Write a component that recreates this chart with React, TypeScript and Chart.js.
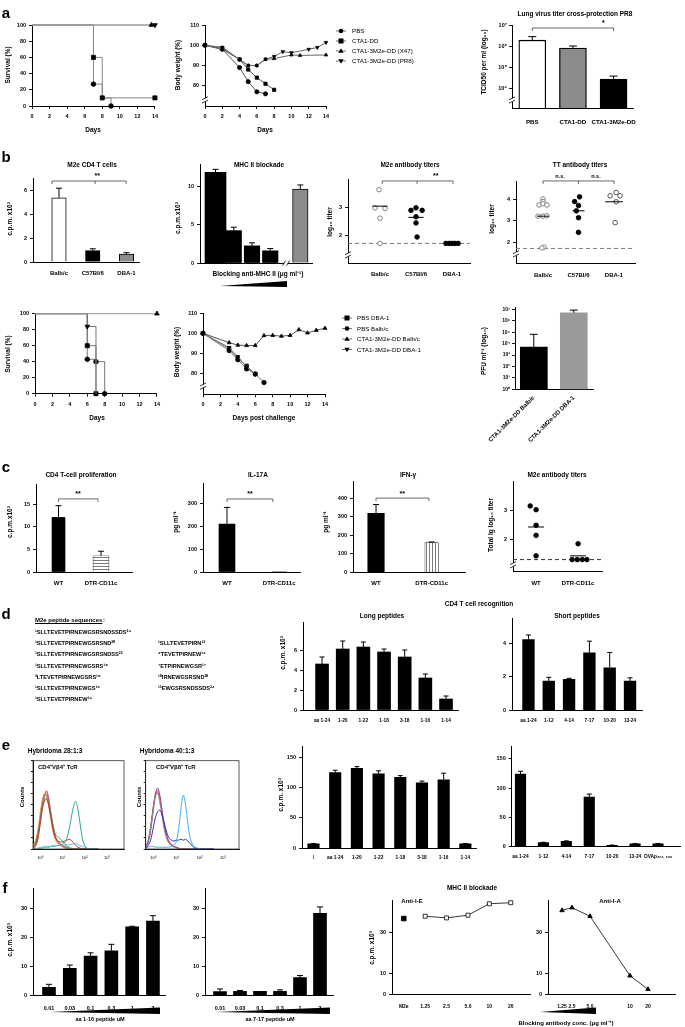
import React, { useEffect, useRef } from 'react';
import { Chart, registerables } from 'chart.js';

Chart.register(...registerables);

const FONT = "'Liberation Sans', Arial, sans-serif";

// ================= DATA =================
const dayTicks = [0, 2, 4, 6, 8, 10, 12, 14];
const survTicks = [0, 20, 40, 60, 80, 100];
const bwTicks = [80, 90, 100, 110];

// a – survival
const survA_PBS_days = [0, 7, 8, 9];
const survA_PBS = [100, 27, 10, 0];
const survA_CTA1DD_days = [0, 7, 8, 14];
const survA_CTA1DD = [100, 60, 10, 10];
const survA_X47_days = [0, 13.6];
const survA_X47 = [100, 100];
const survA_PR8_days = [0, 14];
const survA_PR8 = [100, 100];

// a – body weight
const bwA_PBS_days = [0, 2, 4, 5, 6, 7];
const bwA_PBS = [100, 98, 89, 82, 77, 76];
const bwA_CTA1DD_days = [0, 2, 4, 5, 6, 7, 8];
const bwA_CTA1DD = [100, 98.5, 93, 88, 84, 81, 78];
const bwA_X47_days = [0, 2, 4, 5, 6, 7, 8, 10, 11, 14];
const bwA_X47 = [100, 98, 93, 90, 90, 93, 93.4, 95.2, 95, 95.2];
const bwA_PR8_days = [0, 2, 4, 5, 6, 7, 8, 9, 10, 12, 13, 14];
const bwA_PR8 = [100, 99, 93, 90, 90, 93.2, 94.4, 96.8, 96.3, 98, 98.9, 101.4];
const legendA = ['PBS', 'CTA1-DD', 'CTA1-3M2e-DD (X47)', 'CTA1-3M2e-DD (PR8)'];

// a – lung virus titer
const lungGroups = ['PBS', 'CTA1-DD', 'CTA1-3M2e-DD'];
const lungTiter = [1.9e6, 8.0e5, 2.7e4];
const lungTiterErr = [2.8e6, 1.0e6, 3.7e4];
const lungTicks = [1e4, 1e5, 1e6, 1e7];

// b – M2e CD4 T cells / MHC II blockade
const strains = ['Balb/c', 'C57Bl/6', 'DBA-1'];
const m2eCd4 = [5.35, 0.95, 0.65];
const m2eCd4Err = [6.15, 1.1, 0.78];
const mhcBlockFirst = [11.9];
const mhcBlockFirstErr = [12.3];
const mhcBlock = [4.25, 2.25, 1.6];
const mhcBlockErr = [4.7, 2.65, 1.9];
const mhcNoBlock = [9.7];
const mhcNoBlockErr = [10.25];

// b – M2e antibody titers (log10)
const m2eTiterBalb = [3.62, 2.97, 2.95, 2.6, 1.7];
const m2eTiterBalbJit = [-0.03, -0.14, 0.14, 0, 0];
const m2eTiterC57 = [2.88, 2.97, 2.88, 2.65, 2.43, 1.93];
const m2eTiterC57Jit = [-0.14, 0, 0.17, 0, 0, 0.03];
const m2eTiterDBA = [1.7, 1.7, 1.7, 1.7, 1.7];
const m2eTiterDBAJit = [-0.17, -0.08, 0, 0.08, 0.17];
const m2eTiterMed = [3.03, 2.63, 1.7];

// b – TT antibody titers (log10)
const ttBalb = [4.0, 3.88, 3.72, 3.78, 3.72, 3.2, 3.2, 3.22, 1.76, 1.72];
const ttBalbJit = [0, 0, -0.11, 0, 0.11, -0.14, 0, 0.11, 0.03, -0.03];
const ttC57 = [4.1, 3.88, 3.7, 3.45, 3.13, 2.45];
const ttC57Jit = [0.03, -0.11, 0, -0.06, 0, 0];
const ttDBA = [4.3, 4.15, 4.15, 3.87, 2.9];
const ttDBAJit = [0.06, -0.11, 0.17, 0.06, 0.03];
const ttMed = [3.2, 3.45, 3.87];

// b – survival / body weight after challenge
const survB_PBSDBA_days = [0, 6, 7];
const survB_PBSDBA = [100, 60, 0];
const survB_PBSBalb_days = [0, 6, 7, 8];
const survB_PBSBalb = [100, 43, 40, 0];
const survB_CTABalb_days = [0, 14];
const survB_CTABalb = [100, 100];
const survB_CTADBA_days = [0, 6, 7];
const survB_CTADBA = [100, 84, 0];

const bwB_PBSDBA_days = [0, 3, 4, 5, 6];
const bwB_PBSDBA = [100, 92.5, 87.5, 84, 80];
const bwB_PBSBalb_days = [0, 3, 4, 5, 6, 7];
const bwB_PBSBalb = [100, 91.5, 87, 82.5, 80, 75.8];
const bwB_CTABalb_days = [0, 3, 4, 5, 6, 7, 8, 9, 10, 11, 12, 13, 14];
const bwB_CTABalb = [100, 95.4, 94.2, 94, 94, 98.9, 99, 98.6, 99, 101.8, 100.2, 101.5, 102.5];
const bwB_CTADBA_days = [0, 3, 4, 5, 6];
const bwB_CTADBA = [100, 93, 88.5, 83.5, 79.8];
const legendB = ['PBS DBA-1', 'PBS Balb/c', 'CTA1-3M2e-DD Balb/c', 'CTA1-3M2e-DD DBA-1'];

// b – PFU
const pfuGroups = ['CTA1-3M2e-DD Balb/c', 'CTA1-3M2e-DD DBA-1'];
const pfu = [5000, 5.0e6];
const pfuErr = [6.5e4, 8.5e6];
const pfuTicks = [1, 10, 100, 1e3, 1e4, 1e5, 1e6, 1e7];

// c
const cGroups = ['WT', 'DTR-CD11c'];
const cd4Prolif = [12.1, 3.6];
const cd4ProlifErr = [14.7, 4.6];
const il17a = [210, 3];
const il17aErr = [283, 3];
const ifng = [318, 160];
const ifngErr = [366, 163];
const cTiterWT = [3.16, 3.03, 2.49, 2.14, 1.43];
const cTiterWTJit = [-0.14, 0, 0, 0, 0];
const cTiterDTR = [1.85, 1.3, 1.3, 1.3, 1.3];
const cTiterDTRJit = [0, -0.14, -0.02, 0.1, 0.21];
const cTiterMed = [2.43, 1.43];

// d
const seqLong = [
  '¹SLLTEVETPIRNEWGSRSNDSSDS²⁴',
  '¹SLLTEVETPIRNEWGSRSND²⁰',
  '¹SLLTEVETPIRNEWGSRSNDSS²²',
  '¹SLLTEVETPIRNEWGSRS¹⁸',
  '³LTEVETPIRNEWGSRS¹⁸',
  '¹SLLTEVETPIRNEWGS¹⁶',
  '¹SLLTEVETPIRNEW¹⁴',
];
const seqShort = [
  '¹SLLTEVETPIRN¹²',
  '⁴TEVETPIRNEW¹⁴',
  '⁷ETPIRNEWGSR¹⁷',
  '¹⁰IRNEWGSRSND²⁰',
  '¹³EWGSRSNDSSDS²⁴',
];
const longPeptides = ['aa 1-24', '1-20', '1-22', '1-18', '3-18', '1-16', '1-14'];
const longVals = [4.6, 6.1, 6.3, 5.8, 5.3, 3.2, 1.1];
const longErr = [5.3, 6.9, 6.8, 6.1, 6.0, 3.6, 1.4];
const shortPeptides = ['aa 1-24', '1-12', '4-14', '7-17', '10-20', '13-24'];
const shortVals = [4.23, 1.74, 1.84, 3.43, 2.53, 1.74];
const shortErr = [4.5, 1.96, 1.9, 4.13, 3.45, 1.93];

// e – flow histograms (x = log10 fluorescence)
const flowX = [-0.3, -0.2, -0.1, 0, 0.1, 0.2, 0.3, 0.4, 0.5, 0.6, 0.7, 0.8, 0.9, 1.0, 1.1, 1.2, 1.3, 1.4, 1.5, 1.6, 1.7, 1.8, 1.9, 2.0, 2.1, 2.2, 2.3, 2.4, 2.5, 2.6];
const flow1Orange = [3, 8, 18, 35, 52, 63, 65, 55, 38, 22, 12, 8, 5, 3, 2, 1, 0, 0, 0, 0, 0, 0, 0, 0, 0, 0, 0, 0, 0, 0];
const flow1Brown = [2, 6, 15, 32, 50, 60, 62, 52, 36, 22, 13, 8, 5, 4, 3, 2, 1, 0, 0, 0, 0, 0, 0, 0, 0, 0, 0, 0, 0, 0];
const flow1Olive = [4, 10, 20, 38, 55, 62, 60, 48, 32, 18, 10, 6, 4, 2, 1, 0, 0, 0, 0, 0, 0, 0, 0, 0, 0, 0, 0, 0, 0, 0];
const flow1Magenta = [2, 5, 14, 30, 48, 58, 66, 56, 40, 25, 14, 9, 6, 4, 2, 1, 0, 0, 0, 0, 0, 0, 0, 0, 0, 0, 0, 0, 0, 0];
const flow1Green = [1, 4, 12, 28, 45, 55, 58, 50, 38, 25, 16, 14, 12, 9, 6, 4, 2, 1, 0, 0, 0, 0, 0, 0, 0, 0, 0, 0, 0, 0];
const flow1Red = [1, 3, 10, 26, 44, 54, 56, 48, 34, 20, 12, 9, 8, 8, 9, 10, 11, 10, 7, 4, 2, 1, 0, 0, 0, 0, 0, 0, 0, 0];
const flow1Teal = [0, 0, 0, 1, 1, 2, 2, 2, 3, 3, 3, 4, 4, 5, 7, 12, 22, 35, 48, 54, 45, 28, 12, 4, 1, 0, 0, 0, 0, 0];
const flow1Blue = [0, 1, 1, 2, 2, 3, 3, 3, 3, 4, 4, 4, 4, 4, 4, 4, 5, 5, 6, 6, 5, 4, 3, 2, 1, 0, 0, 0, 0, 0];
const flow2Purple = [3, 10, 25, 45, 62, 69, 60, 42, 25, 14, 8, 5, 3, 2, 1, 0, 0, 0, 0, 0, 0, 0, 0, 0, 0, 0, 0, 0, 0, 0];
const flow2Red = [2, 8, 22, 42, 60, 66, 58, 40, 24, 13, 8, 5, 3, 2, 1, 0, 0, 0, 0, 0, 0, 0, 0, 0, 0, 0, 0, 0, 0, 0];
const flow2Pink = [2, 7, 20, 40, 58, 64, 55, 38, 22, 12, 7, 4, 3, 2, 1, 0, 0, 0, 0, 0, 0, 0, 0, 0, 0, 0, 0, 0, 0, 0];
const flow2Gray = [3, 9, 24, 44, 60, 63, 52, 36, 20, 11, 6, 4, 2, 1, 0, 0, 0, 0, 0, 0, 0, 0, 0, 0, 0, 0, 0, 0, 0, 0];
const flow2Navy = [1, 4, 10, 22, 35, 42, 44, 38, 28, 18, 12, 10, 9, 10, 10, 11, 10, 11, 9, 6, 3, 1, 0, 0, 0, 0, 0, 0, 0, 0];
const flow2Sky = [1, 2, 3, 3, 2, 2, 2, 2, 2, 2, 2, 3, 4, 8, 22, 45, 61, 50, 28, 12, 5, 2, 1, 0, 0, 0, 0, 0, 0, 0];

// e – hybridoma bars
const eLongLabels = ['/', 'aa 1-24', '1-20', '1-22', '1-18', '3-18', '1-16', '1-14'];
const eLongVals = [7, 125, 132, 123, 117, 108, 113, 7];
const eLongErr = [7.5, 129, 135, 128, 120, 111, 124, 7.5];
const eShortLabels = ['aa 1-24', '1-12', '4-14', '7-17', '10-20', '13-24', 'OVAp₃₂₃₋₃₃₉'];
const eShortVals = [124, 7, 9, 85, 2.5, 5, 5];
const eShortErr = [129, 7.5, 10, 90, 2.8, 5.5, 5.5];

// f
const doseLabels = ['0.01', '0.03', '0.1', '0.3', '1', '3'];
const f116 = [2.9, 9.4, 13.6, 15.4, 23.6, 25.6];
const f116Err = [3.9, 10.5, 14.7, 17.6, 23.8, 27.4];
const f717 = [1.4, 1.5, 1.5, 1.5, 6.2, 28.2];
const f717Err = [2.3, 1.8, 1.5, 2.0, 6.9, 30.4];
const ieLabels = ['M2e', '1.25', '2.5', '5.0', '10', '20'];
const ieM2e = [36.6];
const ieVals = [37.7, 36.9, 38.2, 43.7, 44.2];
const iaLabels = ['1.25', '2.5', '5.0', '10', '20'];
const iaSlots = [1.4, 2.4, 4.2, 8.2, 10];
const iaVals = [40.5, 41.8, 37.7, 9.1, 2.6];

// ================= HELPERS =================
const SUP: any = { '0': '⁰', '1': '¹', '2': '²', '3': '³', '4': '⁴', '5': '⁵', '6': '⁶', '7': '⁷', '8': '⁸', '9': '⁹', '-': '⁻' };
const sup = (s: string) => s.split('').map((c) => SUP[c] ?? c).join('');
const pow10Label = (v: number) => '10' + sup(String(Math.round(Math.log10(v))));

const errPlugin = {
  id: 'errbars',
  afterDatasetsDraw(chart: any) {
    const ctx = chart.ctx;
    chart.data.datasets.forEach((ds: any, di: number) => {
      if (!ds.errTop) return;
      const meta = chart.getDatasetMeta(di);
      const ys = chart.scales[meta.yAxisID];
      ctx.save();
      ctx.strokeStyle = '#000';
      ctx.lineWidth = 1;
      meta.data.forEach((el: any, i: number) => {
        const top = ds.errTop[i];
        const v = ds.data[i].y;
        if (top == null || top <= v) return;
        const y1 = ys.getPixelForValue(top);
        const cap = ds.errCap ?? 3;
        ctx.beginPath();
        ctx.moveTo(el.x, el.y);
        ctx.lineTo(el.x, y1);
        ctx.moveTo(el.x - cap, y1);
        ctx.lineTo(el.x + cap, y1);
        ctx.stroke();
      });
      ctx.restore();
    });
  },
};
Chart.register(errPlugin);

function annot(items: any[], frame?: boolean) {
  return {
    id: 'annot',
    beforeDatasetsDraw(chart: any) {
      const { ctx, chartArea: ca } = chart;
      const xs = chart.scales.x, ys = chart.scales.y;
      ctx.save();
      for (const it of items) {
        if (it.kind !== 'hline') continue;
        const y = ys.getPixelForValue(it.y);
        ctx.strokeStyle = it.color ?? '#666';
        ctx.lineWidth = 1;
        ctx.setLineDash(it.dash ?? [4, 3]);
        ctx.beginPath();
        ctx.moveTo(it.x1 != null ? xs.getPixelForValue(it.x1) : ca.left, y);
        ctx.lineTo(it.x2 != null ? xs.getPixelForValue(it.x2) : ca.right, y);
        ctx.stroke();
      }
      ctx.restore();
    },
    afterDatasetsDraw(chart: any) {
      const { ctx, chartArea: ca } = chart;
      const xs = chart.scales.x, ys = chart.scales.y;
      ctx.save();
      if (frame) {
        ctx.strokeStyle = '#333';
        ctx.lineWidth = 0.8;
        ctx.strokeRect(ca.left, ca.top, ca.right - ca.left, ca.bottom - ca.top);
      }
      for (const it of items) {
        ctx.setLineDash([]);
        if (it.kind === 'bracket') {
          const x1 = xs.getPixelForValue(it.x1), x2 = xs.getPixelForValue(it.x2), y = ys.getPixelForValue(it.y);
          const d = it.drop ?? 3;
          ctx.strokeStyle = '#444';
          ctx.lineWidth = 0.8;
          ctx.beginPath();
          ctx.moveTo(x1, y + d); ctx.lineTo(x1, y); ctx.lineTo(x2, y); ctx.lineTo(x2, y + d);
          (it.mids || []).forEach((m: number) => {
            const xm = xs.getPixelForValue(m);
            ctx.moveTo(xm, y); ctx.lineTo(xm, y + d);
          });
          ctx.stroke();
          (it.labels || []).forEach((l: any) => {
            ctx.fillStyle = '#000';
            ctx.font = `bold ${l.size ?? 7}px ${FONT}`;
            ctx.textAlign = 'center';
            ctx.textBaseline = 'bottom';
            ctx.fillText(l.text, xs.getPixelForValue(l.x), y - (l.gap ?? 1));
          });
        } else if (it.kind === 'seg') {
          const y = ys.getPixelForValue(it.y);
          ctx.strokeStyle = '#000';
          ctx.lineWidth = 1;
          ctx.beginPath();
          ctx.moveTo(xs.getPixelForValue(it.x - it.hw), y);
          ctx.lineTo(xs.getPixelForValue(it.x + it.hw), y);
          ctx.stroke();
        } else if (it.kind === 'ybreak') {
          const x = ca.left, y = ys.getPixelForValue(it.y);
          ctx.fillStyle = '#fff';
          ctx.fillRect(x - 1.5, y - 1.8, 3, 3.6);
          ctx.strokeStyle = '#000';
          ctx.lineWidth = 0.8;
          ctx.beginPath();
          ctx.moveTo(x - 3, y - 0.2); ctx.lineTo(x + 3, y - 3.2);
          ctx.moveTo(x - 3, y + 3.2); ctx.lineTo(x + 3, y + 0.2);
          ctx.stroke();
        } else if (it.kind === 'xbreak') {
          const x = xs.getPixelForValue(it.x), y = ca.bottom;
          ctx.fillStyle = '#fff';
          ctx.fillRect(x - 2, y - 1.5, 4, 3);
          ctx.strokeStyle = '#000';
          ctx.lineWidth = 0.8;
          ctx.beginPath();
          ctx.moveTo(x - 3.5, y + 2.5); ctx.lineTo(x - 0.5, y - 2.5);
          ctx.moveTo(x + 0.5, y + 2.5); ctx.lineTo(x + 3.5, y - 2.5);
          ctx.stroke();
        }
      }
      ctx.restore();
    },
  };
}

function axisOpts(o: any, afterFit: (s: any) => void) {
  return {
    type: o.type ?? 'linear',
    min: o.min,
    max: o.max,
    offset: false,
    grid: { display: o.marks !== false, offset: false, drawOnChartArea: false, drawTicks: true, tickLength: o.tl ?? 3, color: '#000', lineWidth: 0.9 },
    border: { display: o.border !== false, color: '#000', width: 1 },
    ticks: {
      display: o.labels !== false,
      autoSkip: false,
      maxRotation: o.rot ?? 0,
      minRotation: o.rot ?? 0,
      padding: o.pad ?? 2,
      color: '#000',
      font: { family: FONT, size: o.fs ?? 5.5, weight: o.weight ?? 'bold' },
      callback: o.names ? (_v: any, i: number) => o.names[i] : o.fmt ? (v: any) => o.fmt(v) : (v: any) => String(v),
    },
    afterBuildTicks: (s: any) => {
      if (o.at) s.ticks = o.at.map((v: number) => ({ value: v }));
    },
    afterFit,
  };
}

function build(spec: any) {
  const [cl, ct, cw, ch] = spec.box;
  const [pl, pt, pr, pb] = spec.plot;
  return {
    type: spec.type ?? 'bar',
    data: { datasets: spec.datasets() },
    options: {
      responsive: false,
      maintainAspectRatio: false,
      animation: false,
      events: [],
      layout: { padding: { left: 0, top: pt - ct, right: cl + cw - pr, bottom: 0 } },
      plugins: { legend: { display: false }, tooltip: { enabled: false }, title: { display: false } },
      scales: {
        x: axisOpts(spec.x, (s: any) => { s.height = ct + ch - pb; }),
        y: axisOpts(spec.y, (s: any) => { s.width = pl - cl; }),
      },
    },
    plugins: [annot(spec.annot ?? [], spec.frame)],
  };
}

function bars(vals: number[], errTop: number[] | null, o: any) {
  const pos = o.pos ?? vals.map((_v, i) => (o.start ?? 1) + i);
  return {
    type: 'bar',
    data: vals.map((v, i) => ({ x: pos[i], y: v })),
    backgroundColor: o.bg ?? '#000',
    borderColor: '#000',
    borderWidth: o.bw ?? 0,
    barThickness: o.w,
    grouped: false,
    errTop,
    errCap: o.cap ?? 3,
  };
}

function series(days: number[], vals: number[], o: any) {
  return {
    type: 'line',
    data: days.map((d, i) => ({ x: d, y: vals[i] })),
    borderColor: o.color ?? '#808080',
    borderWidth: o.lw ?? 1,
    stepped: o.stepped ?? false,
    pointStyle: o.shape ?? 'circle',
    pointRotation: o.rot ?? 0,
    pointRadius: o.radii ?? 2.2,
    pointBackgroundColor: o.fill ?? '#000',
    pointBorderColor: o.stroke ?? '#000',
    pointBorderWidth: 0.8,
    showLine: o.showLine ?? true,
    clip: false,
    tension: o.tension ?? 0,
    fill: false,
  };
}

function dots(vals: number[], jit: number[], cat: number, fill: string, stroke: string) {
  return {
    type: 'scatter',
    data: vals.map((v, i) => ({ x: cat + jit[i], y: v })),
    pointRadius: 2.3,
    pointBackgroundColor: fill,
    pointBorderColor: stroke,
    pointBorderWidth: 0.9,
    clip: false,
  };
}

function flowLine(vals: number[], color: string) {
  return {
    type: 'line',
    data: flowX.map((x, i) => ({ x, y: vals[i] })),
    borderColor: color,
    borderWidth: 0.9,
    pointRadius: 0,
    tension: 0.35,
    fill: false,
  };
}

function stripes(horizontal: boolean) {
  const c = document.createElement('canvas');
  c.width = 3;
  c.height = 3;
  const g = c.getContext('2d')!;
  g.fillStyle = '#fff';
  g.fillRect(0, 0, 3, 3);
  g.fillStyle = '#7a7a7a';
  if (horizontal) g.fillRect(0, 0, 3, 1);
  else g.fillRect(0, 0, 1, 3);
  return g.createPattern(c, 'repeat');
}

// ================= CHART SPECS =================
const specs: any[] = [
  // a – survival
  {
    box: [8, 15, 154, 112], plot: [32, 25, 155, 106], type: 'line',
    datasets: () => [
      series(survA_X47_days, survA_X47, { shape: 'triangle', stepped: true, radii: [0, 2.7], color: '#999' }),
      series(survA_PR8_days, survA_PR8, { shape: 'triangle', rot: 180, stepped: true, radii: [0, 2.7], color: '#999' }),
      series(survA_CTA1DD_days, survA_CTA1DD, { shape: 'rect', stepped: true, radii: [0, 2.9, 2.9, 2.9], color: '#888' }),
      series(survA_PBS_days, survA_PBS, { shape: 'circle', stepped: true, radii: [0, 2.3, 0, 2.3], color: '#888' }),
    ],
    x: { min: 0, max: 14, at: dayTicks, pad: 4 },
    y: { min: 0, max: 100, at: survTicks, pad: 3 },
  },
  // a – body weight
  {
    box: [178, 15, 158, 112], plot: [205, 25, 326, 106], type: 'line',
    datasets: () => [
      series(bwA_X47_days, bwA_X47, { shape: 'triangle', radii: 2, color: '#666' }),
      series(bwA_PR8_days, bwA_PR8, { shape: 'triangle', rot: 180, radii: 2, color: '#666' }),
      series(bwA_CTA1DD_days, bwA_CTA1DD, { shape: 'rect', radii: 2.3, color: '#555' }),
      series(bwA_PBS_days, bwA_PBS, { shape: 'circle', radii: 2.1, color: '#555' }),
    ],
    x: { min: 0, max: 14, at: dayTicks, pad: 4 },
    y: { min: 70, max: 110, at: bwTicks, pad: 3 },
    annot: [{ kind: 'ybreak', y: 73 }],
  },
  // a – lung virus titer
  {
    box: [462, 15, 183, 130], plot: [512, 25, 637, 108],
    datasets: () => [bars(lungTiter, lungTiterErr, { bg: ['#fff', '#8c8c8c', '#000'], bw: 1.3, w: 27, cap: 4 })],
    x: { min: 0.5, max: 3.5, at: [1, 2, 3], names: lungGroups, marks: false, fs: 6.2, pad: 8 },
    y: { type: 'logarithmic', min: 1122, max: 1e7, at: lungTicks, fmt: pow10Label, fs: 5.5 },
    annot: [
      { kind: 'ybreak', y: 2690 },
      { kind: 'bracket', x1: 1, x2: 3, y: 7.2e6, drop: 3, labels: [{ x: 2.75, text: '*', size: 8 }] },
    ],
  },
  // b – M2e CD4 T cells
  {
    box: [10, 168, 137, 112], plot: [33, 178, 139, 262],
    datasets: () => [bars(m2eCd4, m2eCd4Err, { bg: ['#fff', '#000', '#8c8c8c'], bw: 1, w: 14.5 })],
    x: { min: 0.23, max: 3.37, at: [1, 2, 3], names: strains, marks: false, fs: 6, pad: 5 },
    y: { min: 0, max: 7, at: [0, 2, 4, 6], pad: 3 },
    annot: [{ kind: 'bracket', x1: 0.79, x2: 2.99, y: 6.75, mids: [2.07], labels: [{ x: 2.13, text: '**', size: 7 }] }],
  },
  // b – MHC II blockade
  {
    box: [168, 155, 150, 122], plot: [200, 164, 312, 263],
    datasets: () => [
      bars(mhcBlockFirst, mhcBlockFirstErr, { w: 21, pos: [1] }),
      bars(mhcBlock, mhcBlockErr, { w: 15.5, start: 2 }),
      bars(mhcNoBlock, mhcNoBlockErr, { w: 15.5, pos: [5.65], bg: '#8c8c8c', bw: 1 }),
    ],
    x: { min: 0.15, max: 6.29, labels: false, marks: false },
    y: { min: 0, max: 13, at: [0, 5, 10], pad: 3 },
    annot: [{ kind: 'xbreak', x: 4.87 }],
  },
  // b – M2e antibody titers
  {
    box: [318, 168, 160, 112], plot: [348, 179, 470, 263], type: 'scatter',
    datasets: () => [
      dots(m2eTiterBalb, m2eTiterBalbJit, 1, '#fff', '#777'),
      dots(m2eTiterC57, m2eTiterC57Jit, 2, '#000', '#000'),
      dots(m2eTiterDBA, m2eTiterDBAJit, 3, '#000', '#000'),
    ],
    x: { min: 0.11, max: 3.5, at: [1, 2, 3], names: strains, marks: false, fs: 6, pad: 5 },
    y: { min: 1, max: 4, at: [2, 3], pad: 3 },
    annot: [
      { kind: 'hline', y: 1.7, color: '#777' },
      { kind: 'seg', x: 1, y: m2eTiterMed[0], hw: 0.21 },
      { kind: 'seg', x: 2, y: m2eTiterMed[1], hw: 0.21 },
      { kind: 'seg', x: 3, y: m2eTiterMed[2], hw: 0.21 },
      { kind: 'ybreak', y: 1.29 },
      { kind: 'bracket', x1: 1.06, x2: 3.03, y: 3.93, mids: [2.03], labels: [{ x: 2.55, text: '**', size: 7 }] },
    ],
  },
  // b – TT antibody titers
  {
    box: [486, 168, 160, 112], plot: [516, 181.8, 635, 263.5], type: 'scatter',
    datasets: () => [
      dots(ttBalb, ttBalbJit, 1, '#fff', '#777'),
      dots(ttC57, ttC57Jit, 2, '#000', '#000'),
      dots(ttDBA, ttDBAJit, 3, '#fff', '#444'),
    ],
    x: { min: 0.24, max: 3.59, at: [1, 2, 3], names: strains, marks: false, fs: 6, pad: 5 },
    y: { min: 1, max: 4.8, at: [2, 3, 4], pad: 3 },
    annot: [
      { kind: 'hline', y: 1.7, color: '#777' },
      { kind: 'seg', x: 1, y: ttMed[0], hw: 0.17 },
      { kind: 'seg', x: 2, y: ttMed[1], hw: 0.17 },
      { kind: 'seg', x: 3, y: ttMed[2], hw: 0.25 },
      { kind: 'ybreak', y: 1.45 },
      { kind: 'bracket', x1: 1, x2: 3, y: 4.84, mids: [2], labels: [{ x: 1.48, text: 'n.s.', size: 5.5, gap: 2 }, { x: 2.49, text: 'n.s.', size: 5.5, gap: 2 }] },
    ],
  },
  // b – survival after challenge
  {
    box: [8, 303, 156, 112], plot: [35, 313.7, 157, 393.7], type: 'line',
    datasets: () => [
      series(survB_CTABalb_days, survB_CTABalb, { shape: 'triangle', stepped: true, radii: [0, 2.7], color: '#999' }),
      series(survB_CTADBA_days, survB_CTADBA, { shape: 'triangle', rot: 180, stepped: true, radii: [0, 2.7, 0], color: '#777' }),
      series(survB_PBSDBA_days, survB_PBSDBA, { shape: 'rect', stepped: true, radii: [0, 2.9, 2.9], color: '#777' }),
      series(survB_PBSBalb_days, survB_PBSBalb, { shape: 'circle', stepped: true, radii: [0, 2.3, 2.3, 2.3], color: '#777' }),
    ],
    x: { min: 0, max: 14, at: dayTicks, pad: 4 },
    y: { min: 0, max: 100, at: survTicks, pad: 3 },
  },
  // b – body weight after challenge
  {
    box: [176, 303, 160, 112], plot: [203, 313, 325, 394.3], type: 'line',
    datasets: () => [
      series(bwB_CTABalb_days, bwB_CTABalb, { shape: 'triangle', radii: 2.2, color: '#555' }),
      series(bwB_CTADBA_days, bwB_CTADBA, { shape: 'triangle', rot: 180, radii: 2.2, color: '#777' }),
      series(bwB_PBSDBA_days, bwB_PBSDBA, { shape: 'rect', radii: 2.4, color: '#777' }),
      series(bwB_PBSBalb_days, bwB_PBSBalb, { shape: 'circle', radii: 2.2, color: '#777' }),
    ],
    x: { min: 0, max: 14, at: dayTicks, pad: 4 },
    y: { min: 70, max: 110, at: bwTicks, pad: 3 },
    annot: [{ kind: 'ybreak', y: 74 }],
  },
  // b – PFU
  {
    box: [440, 298, 160, 162], plot: [515, 307.7, 593, 389.3],
    datasets: () => [bars(pfu, pfuErr, { bg: ['#000', '#9a9a9a'], w: 27, cap: 4 })],
    x: { min: 0.53, max: 2.48, at: [1, 2], names: pfuGroups, marks: false, rot: 45, fs: 6, pad: 2 },
    y: { type: 'logarithmic', min: 1, max: 1.38e7, at: pfuTicks, fmt: pow10Label, fs: 5, pad: 2 },
  },
  // c – CD4 T-cell proliferation
  {
    box: [8, 476, 132, 112], plot: [36, 484, 132, 572],
    datasets: () => [
      bars([cd4Prolif[0]], [cd4ProlifErr[0]], { w: 13, pos: [1] }),
      bars([cd4Prolif[1]], [cd4ProlifErr[1]], { w: 16, pos: [2], bg: stripes(true), bw: 0.6 }),
    ],
    x: { min: 0.47, max: 2.73, at: [1, 2], names: cGroups, marks: false, fs: 6, pad: 5 },
    y: { min: 0, max: 19.5, at: [0, 5, 10, 15], pad: 3 },
    annot: [{ kind: 'bracket', x1: 1, x2: 1.93, y: 16.2, labels: [{ x: 1.46, text: '**', size: 7 }] }],
  },
  // c – IL-17A
  {
    box: [170, 476, 138, 112], plot: [203, 483, 300, 572],
    datasets: () => [
      bars([il17a[0]], [il17aErr[0]], { w: 16, pos: [1] }),
      bars([il17a[1]], null, { w: 14, pos: [2], bg: '#9a9a9a' }),
    ],
    x: { min: 0.54, max: 2.4, at: [1, 2], names: cGroups, marks: false, fs: 6, pad: 5 },
    y: { min: 0, max: 390, at: [0, 100, 200, 300], pad: 3 },
    annot: [{ kind: 'bracket', x1: 1, x2: 1.88, y: 320, labels: [{ x: 1.44, text: '**', size: 7 }] }],
  },
  // c – IFN-γ
  {
    box: [318, 474, 154, 114], plot: [353, 481.7, 465, 572],
    datasets: () => [
      bars([ifng[0]], [ifngErr[0]], { w: 16.5, pos: [1] }),
      bars([ifng[1]], [ifngErr[1]], { w: 13.5, pos: [2], bg: stripes(false), bw: 0.6 }),
    ],
    x: { min: 0.586, max: 2.6, at: [1, 2], names: cGroups, marks: false, fs: 6, pad: 5 },
    y: { min: 0, max: 490, at: [0, 100, 200, 300, 400], pad: 3 },
    annot: [{ kind: 'bracket', x1: 1, x2: 1.95, y: 401, labels: [{ x: 1.47, text: '**', size: 7 }] }],
  },
  // c – M2e antibody titers
  {
    box: [478, 474, 130, 114], plot: [513, 481.7, 602, 571.7], type: 'scatter',
    datasets: () => [
      dots(cTiterWT, cTiterWTJit, 1, '#000', '#000'),
      dots(cTiterDTR, cTiterDTRJit, 2, '#000', '#000'),
    ],
    x: { min: 0.45, max: 2.57, at: [1, 2], names: cGroups, marks: false, fs: 6, pad: 5 },
    y: { min: 0.88, max: 4, at: [2, 3], pad: 3 },
    annot: [
      { kind: 'hline', y: 1.3, color: '#333' },
      { kind: 'seg', x: 1, y: cTiterMed[0], hw: 0.19 },
      { kind: 'seg', x: 2, y: cTiterMed[1], hw: 0.19 },
      { kind: 'ybreak', y: 1.12 },
    ],
  },
  // d – long peptides
  {
    box: [268, 612, 195, 114], plot: [303, 622, 458, 710],
    datasets: () => [bars(longVals, longErr, { w: 13, cap: 2.5 })],
    x: { min: 0.078, max: 7.58, at: [1, 2, 3, 4, 5, 6, 7], names: longPeptides, marks: false, fs: 4.8, pad: 5 },
    y: { min: 0, max: 8.8, at: [0, 2, 4, 6], pad: 3 },
  },
  // d – short peptides
  {
    box: [488, 610, 160, 116], plot: [512, 618.3, 642, 710],
    datasets: () => [bars(shortVals, shortErr, { w: 11.7, cap: 2.5 })],
    x: { min: 0.19, max: 6.59, at: [1, 2, 3, 4, 5, 6], names: shortPeptides, marks: false, fs: 4.8, pad: 5 },
    y: { min: 0, max: 5.5, at: [0, 2, 4], pad: 3 },
  },
  // e – flow 28:1:3
  {
    box: [20, 752, 110, 112], plot: [33, 760.7, 124, 849], type: 'line', frame: true,
    datasets: () => [
      flowLine(flow1Blue, '#55b8e8'),
      flowLine(flow1Teal, '#1a9a8a'),
      flowLine(flow1Red, '#c83020'),
      flowLine(flow1Green, '#3aa050'),
      flowLine(flow1Magenta, '#d040a0'),
      flowLine(flow1Olive, '#b8a030'),
      flowLine(flow1Brown, '#8b5a2b'),
      flowLine(flow1Orange, '#e89020'),
    ],
    x: { min: -0.31, max: 3.76, at: [0, 1, 2, 3], fmt: (v: number) => '10' + sup(String(v)), fs: 4, weight: 'normal', marks: false, pad: 3 },
    y: { min: 0, max: 100, at: [0, 12.5, 25, 37.5, 50, 62.5, 75, 87.5, 100], labels: false, tl: 2 },
  },
  // e – flow 40:1:3
  {
    box: [133, 752, 110, 112], plot: [145.7, 760.7, 239, 849], type: 'line', frame: true,
    datasets: () => [
      flowLine(flow2Sky, '#30a8e8'),
      flowLine(flow2Navy, '#2020c0'),
      flowLine(flow2Gray, '#709070'),
      flowLine(flow2Pink, '#e060a0'),
      flowLine(flow2Red, '#d02030'),
      flowLine(flow2Purple, '#7030a0'),
    ],
    x: { min: -0.31, max: 3.69, at: [0, 1, 2, 3], fmt: (v: number) => '10' + sup(String(v)), fs: 4, weight: 'normal', marks: false, pad: 3 },
    y: { min: 0, max: 100, at: [0, 12.5, 25, 37.5, 50, 62.5, 75, 87.5, 100], labels: false, tl: 2 },
  },
  // e – long peptides hybridoma
  {
    box: [268, 738, 214, 124], plot: [302, 746.7, 476, 848],
    datasets: () => [bars(eLongVals, eLongErr, { w: 11.5, cap: 2.5 })],
    x: { min: 0.47, max: 8.49, at: [1, 2, 3, 4, 5, 6, 7, 8], names: eLongLabels, marks: false, fs: 4.8, pad: 4 },
    y: { min: 0, max: 168, at: [0, 50, 100, 150], pad: 3 },
  },
  // e – short peptides hybridoma
  {
    box: [478, 738, 206, 124], plot: [511.7, 746.7, 680, 846.7],
    datasets: () => [bars(eShortVals, eShortErr, { w: 10.5, cap: 2.5 })],
    x: { min: 0.616, max: 7.96, at: [1, 2, 3, 4, 5, 6, 7], names: eShortLabels, marks: false, fs: 4.8, pad: 4 },
    y: { min: 0, max: 171, at: [0, 50, 100, 150], pad: 3 },
  },
  // f – aa 1-16 dose
  {
    box: [8, 880, 164, 132], plot: [33, 888.3, 165, 995.7],
    datasets: () => [bars(f116, f116Err, { w: 13 })],
    x: { min: 0.23, max: 6.58, at: [1, 2, 3, 4, 5, 6], names: doseLabels, marks: false, fs: 5.5, pad: 6 },
    y: { min: 0, max: 36.8, at: [0, 10, 20, 30], pad: 3 },
  },
  // f – aa 7-17 dose
  {
    box: [178, 880, 162, 132], plot: [205, 888.3, 333, 995.7],
    datasets: () => [bars(f717, f717Err, { w: 13 })],
    x: { min: 0.25, max: 6.65, at: [1, 2, 3, 4, 5, 6], names: doseLabels, marks: false, fs: 5.5, pad: 6 },
    y: { min: 0, max: 36.8, at: [0, 10, 20, 30], pad: 3 },
  },
  // f – Anti-I-E
  {
    box: [368, 893, 167, 120], plot: [392, 900, 530, 994.7], type: 'line',
    datasets: () => [
      series([0], ieM2e, { shape: 'rect', radii: 3.3, showLine: false }),
      series([1, 2, 3, 4, 5], ieVals, { shape: 'rect', radii: 2.8, fill: '#fff', stroke: '#000', color: '#222', lw: 0.9 }),
    ],
    x: { min: -0.55, max: 5.9, at: [0, 1, 2, 3, 4, 5], names: ieLabels, marks: false, fs: 5, pad: 6 },
    y: { min: 0, max: 45.5, at: [0, 10, 30], pad: 3 },
  },
  // f – Anti-I-A
  {
    box: [530, 893, 150, 120], plot: [548, 900, 675, 994.7], type: 'line',
    datasets: () => [series(iaSlots, iaVals, { shape: 'triangle', radii: 2.6, color: '#222', lw: 0.9 })],
    x: { min: 0, max: 12.7, at: iaSlots, names: iaLabels, marks: false, fs: 5, pad: 6 },
    y: { min: 0, max: 45.5, at: [0, 10, 30], pad: 3 },
  },
];

// ================= COMPONENTS =================
function ChartBox({ spec }: { spec: any }) {
  const ref = useRef<HTMLCanvasElement>(null);
  useEffect(() => {
    const chart = new Chart(ref.current as HTMLCanvasElement, build(spec) as any);
    return () => chart.destroy();
  }, []);
  const [l, t, w, h] = spec.box;
  return (
    <div style={{ position: 'absolute', left: l, top: t, width: w, height: h }}>
      <canvas ref={ref} width={w} height={h} style={{ width: w, height: h, display: 'block' }} />
    </div>
  );
}

function T({ x, y, s = 6.5, b = true, r = false, a = 'c', u = false, children }: any) {
  const tx = a === 'l' ? '0' : '-50%';
  return (
    <div
      style={{
        position: 'absolute', left: x, top: y,
        transform: `translate(${tx}, -50%)${r ? ' rotate(-90deg)' : ''}`,
        fontSize: s, fontWeight: b ? 700 : 400, lineHeight: 1, whiteSpace: 'nowrap',
        textDecoration: u ? 'underline' : 'none', color: '#000',
      }}
    >
      {children}
    </div>
  );
}

function Marker({ shape, x, y }: any) {
  if (shape === 'rect') return <rect x={x - 2.5} y={y - 2.5} width={5} height={5} fill="#000" />;
  if (shape === 'circle') return <circle cx={x} cy={y} r={2.3} fill="#000" />;
  if (shape === 'tri') return <polygon points={`${x},${y - 2.8} ${x - 2.6},${y + 1.8} ${x + 2.6},${y + 1.8}`} fill="#000" />;
  return <polygon points={`${x},${y + 2.8} ${x - 2.6},${y - 1.8} ${x + 2.6},${y - 1.8}`} fill="#000" />;
}

const legendAShapes = ['circle', 'rect', 'tri', 'inv'];
const legendBShapes = ['rect', 'circle', 'tri', 'inv'];
const legendAY = [31, 41, 51, 61];
const legendBY = [318, 328.5, 339, 349.5];

export default function App() {
  return (
    <div style={{ position: 'absolute', left: 0, top: 0, width: 685, height: 1027, background: '#fff', overflow: 'hidden', fontFamily: FONT }}>
      {specs.map((s, i) => (
        <ChartBox key={i} spec={s} />
      ))}

      <svg width={685} height={1027} style={{ position: 'absolute', left: 0, top: 0, pointerEvents: 'none' }}>
        {legendAY.map((y, i) => (
          <g key={'la' + i}>
            <line x1={336} y1={y} x2={346} y2={y} stroke="#777" strokeWidth={1} />
            <Marker shape={legendAShapes[i]} x={341} y={y} />
          </g>
        ))}
        {legendBY.map((y, i) => (
          <g key={'lb' + i}>
            <line x1={342} y1={y} x2={352} y2={y} stroke="#777" strokeWidth={1} />
            <Marker shape={legendBShapes[i]} x={347} y={y} />
          </g>
        ))}
        <polygon points="220,286 287,281 287,287" fill="#000" />
        <polygon points="50,1012 160,1007.5 160,1014" fill="#000" />
        <polygon points="215,1012 330,1007.5 330,1014" fill="#000" />
        <polygon points="540,1012 596,1007.5 596,1014" fill="#000" />
      </svg>

      {/* panel letters */}
      <T x={6} y={12} s={15}>a</T>
      <T x={6} y={156} s={15}>b</T>
      <T x={6} y={466} s={15}>c</T>
      <T x={6} y={613} s={15}>d</T>
      <T x={6} y={744} s={15}>e</T>
      <T x={5} y={887} s={15}>f</T>

      {/* row a */}
      <T x={8} y={65} r>Survival (%)</T>
      <T x={93} y={130}>Days</T>
      <T x={178} y={65} r>Body weight (%)</T>
      <T x={265} y={130}>Days</T>
      {legendA.map((t, i) => (
        <T key={'lta' + i} x={352} y={legendAY[i]} a="l" b={false} s={6.2}>{t}</T>
      ))}
      <T x={575} y={14}>Lung virus titer cross-protection PR8</T>
      <T x={484} y={62} r>TCID50 per ml (log₁₀)</T>

      {/* row b1 */}
      <T x={92} y={165}>M2e CD4 T cells</T>
      <T x={10} y={219} r>c.p.m. x10³</T>
      <T x={259} y={165}>MHC II blockade</T>
      <T x={178} y={218} r>c.p.m.x10³</T>
      <T x={258} y={274}>Blocking anti-MHC II (μg ml⁻¹)</T>
      <T x={410} y={165}>M2e antibody titers</T>
      <T x={330} y={222} r>log₁₀ titer</T>
      <T x={580} y={165}>TT antibody titers</T>
      <T x={492} y={219} r>log₁₀ titer</T>

      {/* row b2 */}
      <T x={8} y={354} r>Survival (%)</T>
      <T x={97} y={418}>Days</T>
      <T x={177} y={352} r>Body weight (%)</T>
      <T x={264} y={418}>Days post challenge</T>
      {legendB.map((t, i) => (
        <T key={'ltb' + i} x={357} y={legendBY[i]} a="l" b={false} s={6.2}>{t}</T>
      ))}
      <T x={484} y={351} r>PFU ml⁻¹ (log₁₀)</T>

      {/* row c */}
      <T x={81} y={475}>CD4 T-cell proliferation</T>
      <T x={10} y={522} r>c.p.m.x10³</T>
      <T x={258} y={475}>IL-17A</T>
      <T x={176} y={522} r>pg ml⁻¹</T>
      <T x={408} y={475}>IFN-γ</T>
      <T x={326} y={522} r>pg ml⁻¹</T>
      <T x={557} y={475}>M2e antibody titers</T>
      <T x={491} y={525} r>Total Ig log₁₀ titer</T>

      {/* row d */}
      <T x={35} y={620} a="l" s={6} u>M2e peptide sequences</T>
      <T x={103} y={620} a="l" s={6}>:</T>
      {seqLong.map((t, i) => (
        <T key={'sl' + i} x={35} y={633 + i * 11.2} a="l" s={5.6}>{t}</T>
      ))}
      {seqShort.map((t, i) => (
        <T key={'ss' + i} x={158} y={644.2 + i * 11.2} a="l" s={5.6}>{t}</T>
      ))}
      <T x={479} y={604}>CD4 T cell recognition</T>
      <T x={382} y={616}>Long peptides</T>
      <T x={577} y={616}>Short peptides</T>
      <T x={283} y={653} r>c.p.m. x10³</T>

      {/* row e */}
      <T x={55} y={751}>Hybridoma 28:1:3</T>
      <T x={167} y={751}>Hybridoma 40:1:3</T>
      <T x={38} y={767} a="l" s={6}>CD4⁺Vβ4⁺ TcR</T>
      <T x={156} y={767} a="l" s={6}>CD4⁺Vβ8⁺ TcR</T>
      <T x={22} y={797} r s={6}>Counts</T>
      <T x={139} y={797} r s={6}>Counts</T>
      <T x={281} y={795} r>c.p.m. x10³</T>

      {/* row f */}
      <T x={10} y={940} r>c.p.m. x10³</T>
      <T x={100} y={1020} s={5.5}>aa 1-16 peptide uM</T>
      <T x={270} y={1020} s={5.5}>aa 7-17 peptide uM</T>
      <T x={472} y={888}>MHC II blockade</T>
      <T x={412} y={901} s={6}>Anti-I-E</T>
      <T x={610} y={901} s={6}>Anti-I-A</T>
      <T x={372} y={948} r>c.p.m. x10³</T>
      <T x={566} y={1023} s={6}>Blocking antibody conc. (μg ml⁻¹)</T>
    </div>
  );
}
